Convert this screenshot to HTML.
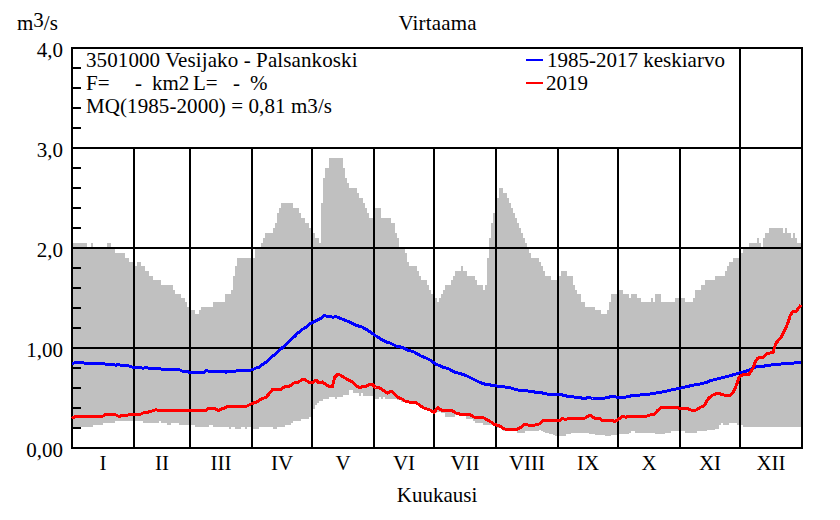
<!DOCTYPE html>
<html><head><meta charset="utf-8"><style>
html,body{margin:0;padding:0;background:#fff;}
svg{display:block;}
text{font-family:"Liberation Serif",serif;font-size:21px;fill:#000;}
</style></head><body>
<svg width="840" height="520" viewBox="0 0 840 520">
<rect width="840" height="520" fill="#fff"/>
<path d="M73,243 L87,243 L87,248 L91,248 L91,243 L93,243 L93,248 L107,248 L107,243 L111,243 L111,248 L115,248 L115,253 L125,253 L125,258 L129,258 L129,262 L133,262 L133,264 L135,264 L135,266 L137,266 L137,262 L141,262 L141,266 L145,266 L145,271 L149,271 L149,276 L153,276 L153,280 L161,280 L161,285 L173,285 L173,290 L175,290 L175,294 L181,294 L181,298 L185,298 L185,302 L187,302 L187,307 L189,307 L189,308 L191,308 L191,310 L195,310 L195,314 L199,314 L199,310 L201,310 L201,307 L213,307 L213,302 L225,302 L225,294 L231,294 L231,290 L233,290 L233,276 L235,276 L235,266 L237,266 L237,258 L255,258 L255,249 L261,249 L261,243 L263,243 L263,238 L265,238 L265,233 L273,233 L273,228 L275,228 L275,223 L277,223 L277,213 L279,213 L279,208 L281,208 L281,203 L293,203 L293,208 L299,208 L299,213 L301,213 L301,218 L305,218 L305,223 L309,223 L309,228 L311,228 L311,230 L313,230 L313,233 L315,233 L315,238 L319,238 L319,243 L321,243 L321,203 L323,203 L323,178 L325,178 L325,168 L329,168 L329,158 L343,158 L343,168 L345,168 L345,178 L347,178 L347,183 L349,183 L349,188 L357,188 L357,193 L359,193 L359,198 L363,198 L363,203 L365,203 L365,208 L367,208 L367,213 L369,213 L369,218 L373,218 L373,213 L375,213 L375,208 L381,208 L381,218 L391,218 L391,223 L395,223 L395,233 L397,233 L397,238 L399,238 L399,249 L405,249 L405,253 L407,253 L407,262 L409,262 L409,266 L417,266 L417,271 L419,271 L419,276 L421,276 L421,280 L427,280 L427,285 L429,285 L429,290 L431,290 L431,294 L433,294 L433,296 L435,296 L435,298 L437,298 L437,302 L439,302 L439,298 L441,298 L441,294 L443,294 L443,290 L445,290 L445,285 L451,285 L451,280 L453,280 L453,276 L455,276 L455,271 L461,271 L461,266 L463,266 L463,271 L467,271 L467,276 L475,276 L475,280 L477,280 L477,285 L483,285 L483,290 L485,290 L485,285 L487,285 L487,258 L489,258 L489,238 L491,238 L491,223 L493,223 L493,213 L495,213 L495,205 L497,205 L497,198 L499,198 L499,188 L503,188 L503,193 L507,193 L507,198 L509,198 L509,203 L511,203 L511,208 L513,208 L513,213 L515,213 L515,218 L517,218 L517,223 L519,223 L519,228 L521,228 L521,233 L523,233 L523,238 L525,238 L525,243 L527,243 L527,249 L529,249 L529,253 L531,253 L531,258 L539,258 L539,262 L541,262 L541,266 L543,266 L543,271 L545,271 L545,276 L551,276 L551,280 L557,280 L557,278 L559,278 L559,276 L561,276 L561,271 L567,271 L567,276 L573,276 L573,285 L575,285 L575,290 L577,290 L577,294 L581,294 L581,302 L585,302 L585,307 L595,307 L595,310 L601,310 L601,314 L607,314 L607,310 L609,310 L609,302 L611,302 L611,294 L617,294 L617,292 L619,292 L619,290 L623,290 L623,294 L629,294 L629,298 L631,298 L631,294 L637,294 L637,298 L641,298 L641,302 L651,302 L651,298 L653,298 L653,302 L655,302 L655,294 L661,294 L661,302 L675,302 L675,298 L681,298 L681,298 L685,298 L685,302 L693,302 L693,298 L695,298 L695,290 L701,290 L701,285 L705,285 L705,280 L715,280 L715,276 L725,276 L725,271 L727,271 L727,266 L729,266 L729,262 L733,262 L733,258 L739,258 L739,255 L741,255 L741,253 L743,253 L743,249 L749,249 L749,243 L757,243 L757,238 L759,238 L759,243 L761,243 L761,249 L763,249 L763,238 L765,238 L765,233 L769,233 L769,228 L783,228 L783,233 L785,233 L785,228 L787,228 L787,233 L791,233 L791,238 L793,238 L793,233 L795,233 L795,238 L797,238 L797,243 L801,243 L801,427 L743,427 L743,425 L737,425 L737,423 L729,423 L729,425 L723,425 L723,423 L721,423 L721,425 L719,425 L719,429 L715,429 L715,430 L707,430 L707,431 L697,431 L697,433 L685,433 L685,431 L671,431 L671,433 L665,433 L665,434 L655,434 L655,433 L635,433 L635,431 L631,431 L631,433 L629,433 L629,434 L619,434 L619,435 L611,435 L611,436 L605,436 L605,435 L595,435 L595,434 L589,434 L589,433 L571,433 L571,434 L566,434 L566,435.5 L555,435.5 L555,434.5 L553,434.5 L553,434 L551,434 L551,433.5 L549,433.5 L549,433 L547,433 L547,432.5 L545,432.5 L545,432 L543,432 L543,431 L541,431 L541,430 L539,430 L539,431 L525,431 L525,433 L517,433 L517,431 L503,431 L503,428 L497,428 L497,427 L495,427 L495,425 L483,425 L483,423 L475,423 L475,421 L473,421 L473,419 L466,419 L466,415 L455,415 L455,417 L445,417 L445,413 L441,413 L441,412 L437,412 L437,413 L433,413 L433,411 L429,411 L429,409 L423,409 L423,406 L419,406 L419,403 L405,403 L405,402 L401,402 L401,400 L397,400 L397,399 L385,399 L385,397 L383,397 L383,399 L381,399 L381,397 L379,397 L379,399 L375,399 L375,397 L373,397 L373,396 L363,396 L363,393 L361,393 L361,396 L359,396 L359,393 L353,393 L353,390 L349,390 L349,395 L343,395 L343,397 L337,397 L337,399 L335,399 L335,397 L329,397 L329,399 L323,399 L323,401 L319,401 L319,403 L317,403 L317,405 L315,405 L315,409 L313,409 L313,413 L311,413 L311,417 L309,417 L309,419 L301,419 L301,421 L293,421 L293,423 L291,423 L291,425 L285,425 L285,427 L277,427 L277,429 L273,429 L273,427 L259,427 L259,429 L253,429 L253,428 L251,428 L251,427 L247,427 L247,429 L245,429 L245,427 L241,427 L241,429 L235,429 L235,427 L231,427 L231,429 L229,429 L229,427 L213,427 L213,425 L209,425 L209,427 L195,427 L195,425 L179,425 L179,423 L171,423 L171,425 L167,425 L167,423 L161,423 L161,421 L159,421 L159,423 L143,423 L143,421 L115,421 L115,423 L103,423 L103,425 L93,425 L93,427 L73,427 Z" fill="#c0c0c0" shape-rendering="crispEdges"/>
<g stroke="#000" stroke-width="2" shape-rendering="crispEdges">
<line x1="71" y1="148" x2="803" y2="148"/><line x1="71" y1="248" x2="803" y2="248"/><line x1="71" y1="348" x2="803" y2="348"/><line x1="134" y1="148" x2="134" y2="448"/><line x1="190" y1="148" x2="190" y2="448"/><line x1="252" y1="148" x2="252" y2="448"/><line x1="312" y1="148" x2="312" y2="448"/><line x1="374" y1="148" x2="374" y2="448"/><line x1="434" y1="148" x2="434" y2="448"/><line x1="496" y1="148" x2="496" y2="448"/><line x1="558" y1="148" x2="558" y2="448"/><line x1="618" y1="148" x2="618" y2="448"/><line x1="680" y1="148" x2="680" y2="448"/><line x1="740" y1="48" x2="740" y2="448"/>
<line x1="71" y1="428" x2="81" y2="428"/><line x1="71" y1="408" x2="81" y2="408"/><line x1="71" y1="388" x2="81" y2="388"/><line x1="71" y1="368" x2="81" y2="368"/><line x1="71" y1="328" x2="81" y2="328"/><line x1="71" y1="308" x2="81" y2="308"/><line x1="71" y1="288" x2="81" y2="288"/><line x1="71" y1="268" x2="81" y2="268"/><line x1="71" y1="228" x2="81" y2="228"/><line x1="71" y1="208" x2="81" y2="208"/><line x1="71" y1="188" x2="81" y2="188"/><line x1="71" y1="168" x2="81" y2="168"/><line x1="71" y1="128" x2="81" y2="128"/><line x1="71" y1="108" x2="81" y2="108"/><line x1="71" y1="88" x2="81" y2="88"/><line x1="71" y1="68" x2="81" y2="68"/>
<rect x="72" y="48" width="730" height="400" fill="none"/>
</g>
<polyline points="72,363.5 76,362.5 83,362.5 85,363.5 104,363.5 106,364.5 114,364.5 116,365.5 118,364 120,365 127,365 130,366.5 134,367.5 141,367.5 143,368.5 146,367 149,368.5 160,368.5 162,369.5 179,369.5 182,371 187,371 189,372.5 204,372.5 206,370.5 208,371 224,371 226,372.5 228,371 236,371 238,370 251,370 253,369.5 256,368 259,367.3 261,365.4 266,362.2 271,357.4 276,353.7 280.5,349.3 285,345.4 290,340.6 292.5,338.1 295,336.1 297.5,333.1 300,331.3 302.5,329.3 305,327.8 311,323.2 316,320.7 321,318.4 324,315.7 327,316.2 333,317.2 336,316.7 342,319 351,322.7 356,325.2 362,327 366,329.2 371,332.5 376,336 381,339.2 385,341.5 390,343 396,346 402.5,347.5 407.5,350 414,352 420,355.5 426,358 431,360.5 435,363.75 442.5,367 449,369 455,372.25 461,373.75 467.5,376.25 474,379.5 480,382.5 486,384.5 492.5,385.25 499,386.25 505,387 511,388 517.5,390 525,390.6 530,391.25 536,392.25 542.5,393 549,394.4 555,394.75 562.5,395 567.5,396.25 576,397.25 585,398.5 589,397.25 592.5,398.5 602.5,398.5 607.5,397.5 612.5,396.25 617.5,397.25 625,397.25 632.5,395.6 640,395 647.5,394.5 652.5,393.5 660,392.5 669,390.5 675,389.25 681,388 687.5,386.5 694,385 700,384 706,382.5 711,380.5 719,378.5 725,377 731,375.5 737.5,373.5 744,371.7 749,370.3 753,367.8 756.4,366.9 764.5,366 772.7,364.8 781,364 789,363.4 797.3,362.8 801,362.5" fill="none" stroke="#0000ff" stroke-width="3" stroke-linejoin="round" shape-rendering="crispEdges"/>
<polyline points="72,418.5 76,416 103,416 106,414 113,414 116,415 119,416.5 122,415.5 127,415.5 130,414 141,414 143,413 147,412.5 150,411.5 154,410.5 156,409.5 158,410.5 206,410.5 208,408.5 214,408.5 219,410.5 222,408.5 224,408.5 228,406 247,406 252,403.5 257,402 262,398.5 266,397.5 272.5,389.5 281,389.5 285,386.5 289,386.5 294,383 297.5,382.5 302.5,379.5 305,379.5 309,382.5 312.5,383 316,380 319,383 322.5,382 329,386.5 332.5,386.5 334.5,377.5 337.5,374.5 340,375 347.5,379.5 352.5,382 356,385.5 360,388 362.5,386.5 366,386.5 369,384.5 372.5,384.5 375.5,387.5 379,387.5 382.5,390 387.5,393 391,391 395,394.5 399,398 402,399 405,401 409,402 416,402.5 420,405.5 424,408 430,410 434,412.5 438,407.5 442.5,411 446,410.5 452,410.5 456,413 461,414.5 470,414.5 474,417 477.5,418 480,417.5 484,418 487.5,420 491,422 495,424.75 499,425.5 502.5,428 505,429 517.5,429 520,428 524,424.75 527.5,425 535,425 540,423.75 543,420.5 550,420.25 560,420.25 562.5,418.6 566,419.5 569,418 580,418 584,418.5 590,415.25 595,418.5 600,418.5 602.5,421 607.5,420.25 611,420.25 615,421.5 617.5,420 622.5,416.25 626,417.25 629,416.25 646,416.25 650,415 655,414 657.5,410.5 661,407.5 666,408 669,407.5 672.5,408 676,407.25 681,408.75 686,408 691,410 696,410 701,407 704,406 706,402.5 708,399 712,395.3 716,393.8 720,393.8 725,395.3 730,395.5 734,391 736.5,385 737.5,382.5 739,377 742.5,375 749,374.5 753,368 755.5,361.5 758,358 763,357.5 767,353.5 773,352.5 774.5,347.5 776,343 780.3,338.4 782.7,334.3 785.2,329.4 788.5,321.2 790,316 793,311 796,311.5 798.5,308 801,305" fill="none" stroke="#ff0000" stroke-width="3" stroke-linejoin="round" shape-rendering="crispEdges"/>
<line x1="526" y1="60" x2="543" y2="60" stroke="#0000ff" stroke-width="2"/>
<line x1="526" y1="83" x2="543" y2="83" stroke="#ff0000" stroke-width="2"/>
<text x="437.5" y="30" text-anchor="middle" textLength="78" lengthAdjust="spacing">Virtaama</text>
<text x="17" y="30">m<tspan dy="-3">3</tspan><tspan dy="3">/s</tspan></text>
<text x="86" y="66.5" textLength="271.5" lengthAdjust="spacing">3501000 Vesijako - Palsankoski</text>
<text x="86" y="90">F=</text>
<text x="135" y="90">-</text>
<text x="152" y="90">km2</text>
<text x="193" y="90">L=</text>
<text x="233" y="90">-</text>
<text x="250" y="90">%</text>
<text x="86" y="113" textLength="246" lengthAdjust="spacing">MQ(1985-2000) = 0,81 m3/s</text>
<text x="547" y="67">1985-2017 keskiarvo</text>
<text x="546" y="90">2019</text>
<text x="103.0" y="470" text-anchor="middle">I</text><text x="162.0" y="470" text-anchor="middle">II</text><text x="221.0" y="470" text-anchor="middle">III</text><text x="282.0" y="470" text-anchor="middle">IV</text><text x="343.0" y="470" text-anchor="middle">V</text><text x="404.0" y="470" text-anchor="middle">VI</text><text x="465.0" y="470" text-anchor="middle">VII</text><text x="527.0" y="470" text-anchor="middle">VIII</text><text x="588.0" y="470" text-anchor="middle">IX</text><text x="649.0" y="470" text-anchor="middle">X</text><text x="710.0" y="470" text-anchor="middle">XI</text><text x="771.0" y="470" text-anchor="middle">XII</text><text x="63" y="57" text-anchor="end">4,0</text><text x="63" y="157" text-anchor="end">3,0</text><text x="63" y="257" text-anchor="end">2,0</text><text x="63" y="357" text-anchor="end">1,00</text><text x="63" y="457" text-anchor="end">0,00</text>
<text x="437" y="502" text-anchor="middle">Kuukausi</text>
</svg>
</body></html>
